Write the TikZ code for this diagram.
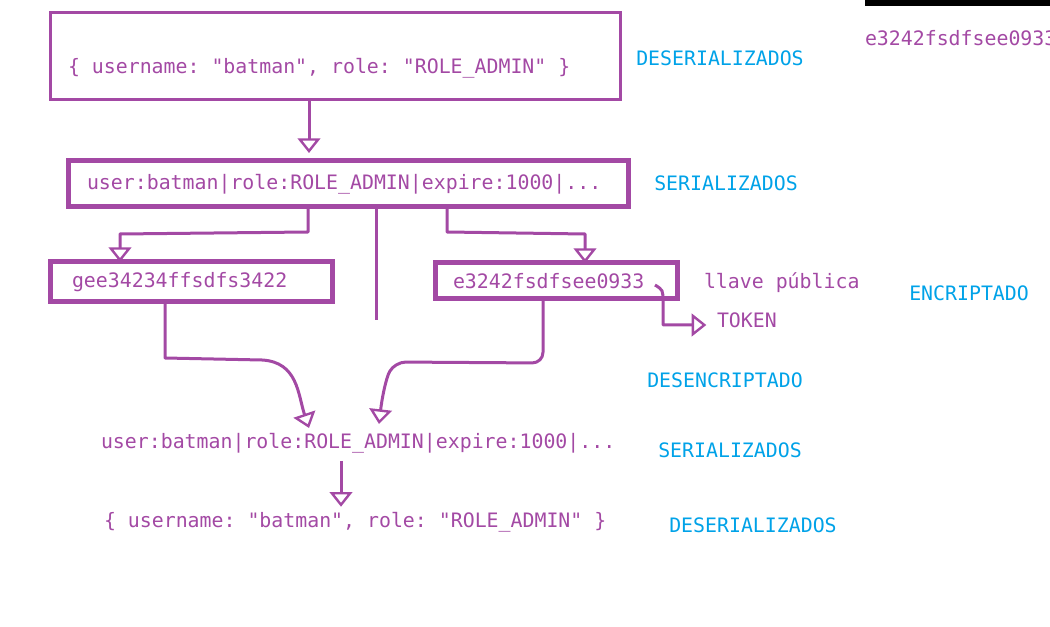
\documentclass[tikz,border=0pt]{standalone}
\usepackage{fontspec}
\setmonofont{DejaVu Sans Mono}
\usepackage{xcolor}
\definecolor{jwtPurple}{HTML}{A349A4}
\definecolor{jwtBlue}{HTML}{00A2E8}
\usepackage{tikz}
\usetikzlibrary{arrows.meta,positioning,calc}
\tikzset{
    datos/.style={
        text=jwtPurple,
        font=\fontsize{14.9pt}{18pt}\ttfamily,
        inner sep=0pt,
        outer sep=0pt,
        anchor=west
    },
    caja/.style={
        datos,
        draw=jwtPurple,
        line width=3.75pt,
        inner ysep=0pt
    },
    etapa/.style={
        text=jwtBlue,
        font=\fontsize{14.9pt}{18pt}\ttfamily,
        inner sep=0pt,
        anchor=west
    },
    arrow/.style={
        -{Triangle[open, length=11pt, width=17pt, line width=1.8pt]},
        line width=2.25pt,
        color=jwtPurple,
        line join=round
    },
    trazo/.style={
        line width=2.25pt,
        color=jwtPurple
    }
}

\begin{document}
\begin{tikzpicture}[x=0.75pt, y=-0.75pt]
    \useasboundingbox (0,0) rectangle (1050,627);
    \clip (0,0) rectangle (1050,627);

    % Boxes
    \node[caja, line width=2.25pt, text height=45.75pt, text depth=19.5pt,
          inner xsep=13.5pt] (json) at (50,56.5)
        {\makebox[400.5pt][l]{\{ username: "batman", role: "ROLE\_ADMIN" \}}};
    \node[caja, minimum height=34.5pt, inner xsep=14.25pt] (serial) at (68,184)
        {\makebox[391.5pt][l]{user:batman|role:ROLE\_ADMIN|expire:1000|...}};
    \node[caja, minimum height=30pt, inner xsep=16.5pt] (claveA) at (50,282)
        {\makebox[178.5pt][l]{gee34234ffsdfs3422}};
    \node[caja, minimum height=27pt, inner xsep=13.5pt] (claveB) at (435,281)
        {\makebox[154.5pt][l]{e3242fsdfsee0933}};
    \node[draw=black, line width=4.5pt, outer sep=0pt, minimum width=250pt, minimum height=60pt,
          anchor=south west] (negro) at (868,3) {};

    % Plain texts
    \node[datos] (llave) at (704,283) {llave pública};
    \node[datos] (token) at (717,320) {TOKEN};
    \node[datos] (firma) at (865,38) {e3242fsdfsee0933};
    \node[datos] (serial2) at (101,443) {user:batman|role:ROLE\_ADMIN|expire:1000|...};
    \node[datos] (json2) at (104,522) {\{ username: "batman", role: "ROLE\_ADMIN" \}};

    % Stages
    \node[etapa] (desA) at (636,58) {DESERIALIZADOS};
    \node[etapa] (serA) at (654,183) {SERIALIZADOS};
    \node[etapa] (enc) at (909,293) {ENCRIPTADO};
    \node[etapa] (desenc) at (647,380) {DESENCRIPTADO};
    \node[etapa] (serB) at (658,450) {SERIALIZADOS};
    \node[etapa] (desB) at (669,525) {DESERIALIZADOS};

    % Bends
    \coordinate (c1) at (309,153);
    \coordinate (b1) at (308,232);
    \coordinate (b2) at (120,234);
    \coordinate (b3) at (447,232);
    \coordinate (b4) at (585,234);
    \coordinate (v1) at (376,320);
    \coordinate (m1) at (165,358);
    \coordinate (m2) at (262,360);
    \coordinate (m3) at (309,428);
    \coordinate (n1) at (543,363);
    \coordinate (n2) at (395,362);
    \coordinate (n3) at (379,424);
    \coordinate (h0) at (655,285);
    \coordinate (h1) at (663,325);
    \coordinate (d1) at (341,0);

    % Connections
    \draw[arrow] (json.south -| c1) -- (c1);
    \draw[arrow] (serial.south -| b1) -- (b1) -- (b2) -- (b2 |- claveA.north);
    \draw[arrow] (serial.south -| b3) -- (b3) -- (b4) -- (b4 |- claveB.north);
    \draw[trazo] (serial.south -| v1) -- (v1);
    \draw[arrow] (claveA.south -| m1) -- (m1) -- (m2) .. controls (298,362) and (298,395) .. (m3);
    \draw[arrow, rounded corners=8pt] (claveB.south -| n1) -- (n1) -- (n2)
        .. controls (386,378) and (382,398) .. (n3);
    \draw[arrow, shorten >=8pt] (h0) .. controls (663,290) .. (663,302) -- (h1) -- (h1 -| token.west);
    \draw[arrow, shorten <=6pt, shorten >=4pt] (serial2.south -| d1) -- (json2.north -| d1);
\end{tikzpicture}
\end{document}
